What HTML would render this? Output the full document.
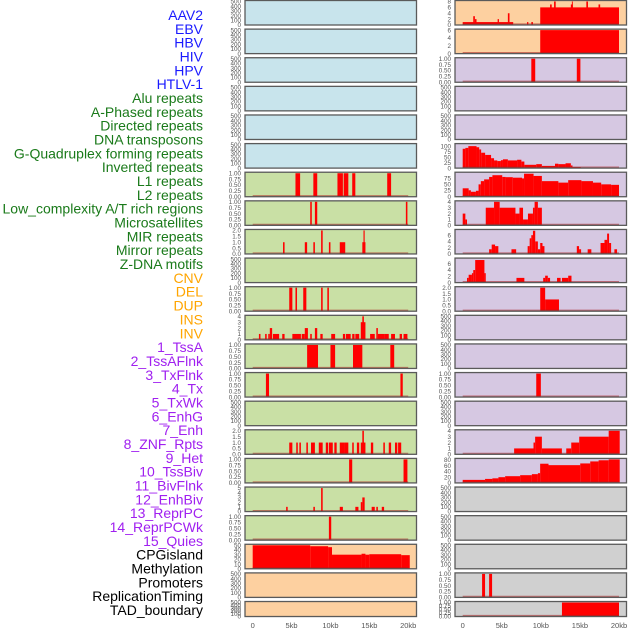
<!DOCTYPE html>
<html><head><meta charset="utf-8"><style>
html,body{margin:0;padding:0;background:#fff;}
svg{display:block;}
text{font-family:"Liberation Sans",sans-serif;}
</style></head><body>
<svg id="chart" width="630" height="630" viewBox="0 0 630 630" xmlns="http://www.w3.org/2000/svg">
<g id="labels"></g>
<g id="panels"></g>
</svg>
<script>
const labelNames = ["AAV2","EBV","HBV","HIV","HPV","HTLV-1","Alu repeats","A-Phased repeats","Directed repeats","DNA transposons","G-Quadruplex forming repeats","Inverted repeats","L1 repeats","L2 repeats","Low_complexity A/T rich regions","Microsatellites","MIR repeats","Mirror repeats","Z-DNA motifs","CNV","DEL","DUP","INS","INV","1_TssA","2_TssAFlnk","3_TxFlnk","4_Tx","5_TxWk","6_EnhG","7_Enh","8_ZNF_Rpts","9_Het","10_TssBiv","11_BivFlnk","12_EnhBiv","13_ReprPC","14_ReprPCWk","15_Quies","CPGisland","Methylation","Promoters","ReplicationTiming","TAD_boundary"];
const labelGroups = [0,0,0,0,0,0,1,1,1,1,1,1,1,1,1,1,1,1,1,2,2,2,2,2,3,3,3,3,3,3,3,3,3,3,3,3,3,3,3,4,4,4,4,4];
const groupColors = ["#1a1aff","#1a7a1a","#ffa500","#a020f0","#000000"];
const xTickLabels = ["0","5kb","10kb","15kb","20kb"];
const xTickValues = [0,5,10,15,20];

const segL7 = [[5.5,6.1,1],[7.8,8.3,1],[10.9,11.6,1],[11.7,12.3,1],[12.8,13.2,1],[17.3,17.8,1]];
const segL8 = [[7.4,7.6,1],[8.0,8.3,1],[19.7,19.9,1]];
const segL9 = [[3.9,4.1,1],[6.7,7.0,1],[7.8,8.0,1],[8.8,9.0,2],[9.8,10.0,1],[11.2,11.9,1],[14.1,14.5,1],[14.25,14.4,2]];
const segL11 = [[4.7,5.1,1],[5.5,5.7,1],[6.5,6.9,1],[8.8,9.0,1],[9.6,9.8,1]];
const segL12 = [[0.8,1.0,1],[1.6,1.8,1],[2.0,2.2,1],[2.2,2.5,2],[2.6,3.4,1],[3.8,4.1,1],[5.1,6.2,1],[6.3,6.7,1],[6.7,7.1,2],[7.4,7.6,1],[8.0,8.3,2],[8.7,9.0,1],[10.1,10.6,1],[11.6,11.9,1],[12.0,12.6,1],[12.8,13.1,1],[13.2,13.7,1],[13.9,14.5,3],[14.1,14.3,4],[15.1,15.7,1],[15.9,16.1,2],[16.1,16.9,1],[16.9,17.5,1],[17.8,18.3,1],[18.9,19.2,1],[19.4,19.9,1]];
const segL13 = [[7.0,8.4,1],[10.0,10.6,1],[12.9,14.1,1],[17.7,18.2,1]];
const segL14 = [[1.7,2.1,1],[19.0,19.3,1]];
const segL16 = [[4.7,5.1,1],[5.6,5.8,1],[6.0,6.2,1],[6.9,7.1,1],[7.5,8.0,1],[8.5,9.0,1],[9.4,9.7,1],[9.8,10.3,1],[10.5,10.8,1],[11.2,11.8,1],[11.8,12.3,1],[12.8,13.0,1],[13.4,13.7,1],[13.9,14.5,1],[14.1,14.3,2],[15.2,15.5,1],[16.8,17.0,1],[17.5,17.8,1],[18.3,18.6,1],[18.7,19.1,1]];
const segL17 = [[12.4,12.8,1],[19.4,19.9,1]];
const segL18 = [[4.3,4.5,1],[7.8,8.0,1],[8.8,9.0,5],[11.2,11.6,1],[13.2,13.6,1],[13.9,14.1,2],[14.1,14.4,3],[15.3,15.7,1],[15.9,16.1,1],[16.6,16.9,1]];
const segL19 = [[9.8,10.1,1]];
const segL20 = [[0,7.4,50],[7.4,9.7,48],[9.7,10.2,46],[10.2,14.0,30],[14.0,14.5,32],[14.5,15.0,30],[15.0,19.1,31],[19.1,20.2,29]];

const segR1 = [[0,6.46,1],[1.35,1.56,3],[1.56,1.77,2],[4.47,4.64,2],[5.78,5.99,4],[8.23,8.40,1],[8.78,8.99,1],[9.92,20,6],[11.18,11.39,7],[11.69,11.9,8],[13.84,14.09,7],[13.97,14.09,8],[15.82,16.03,8],[17.38,17.59,7]];
const segR2 = [[9.92,20,6]];
const segR3 = [[8.78,9.28,1],[14.6,15.06,1]];
const segR6 = [[0,0.34,88],[0.34,0.72,92],[0.72,1.77,100],[1.77,2.11,95],[2.11,2.36,85],[2.36,2.87,70],[2.87,3.63,60],[3.63,4.01,45],[4.01,4.43,35],[4.43,4.89,32],[4.89,5.15,36],[5.15,5.78,40],[5.78,6.96,35],[6.96,7.51,38],[7.51,7.89,30],[7.89,9.41,15],[9.41,10.13,18],[10.13,11.81,10],[11.81,12.24,20],[12.24,13.16,18],[13.16,13.84,22],[13.84,14.05,12],[14.05,15.11,5]];
const segR7 = [[0,0.76,34],[0.76,1.05,26],[1.05,1.69,20],[1.69,2.03,24],[2.03,2.32,50],[2.32,2.74,63],[2.74,3.38,70],[3.38,3.8,80],[3.8,5.06,87],[5.06,5.49,80],[5.49,6.41,79],[6.41,7.59,77],[7.59,7.85,74],[7.85,9.07,93],[9.07,10.13,84],[10.13,12.24,63],[12.24,13.5,57],[13.5,15.19,67],[15.19,16.67,63],[16.67,17.72,57],[17.72,18.99,50],[18.99,20,48]];
const segR8 = [[0,0.34,2],[0.34,0.55,1],[2.95,4.01,3],[4.01,4.73,4],[4.73,6.75,3],[6.75,7.26,2],[7.26,7.72,3],[7.72,8.35,1],[8.35,8.99,2],[8.99,9.2,3],[9.2,9.62,4],[9.62,10.13,3]];
const segR9 = [[3.38,3.71,1.5],[3.71,4.14,3],[4.14,4.56,2.5],[6.24,6.84,1.5],[8.31,8.57,2.5],[8.57,8.78,5],[8.78,8.99,6],[8.99,9.28,7.4],[9.28,9.62,4],[9.62,9.92,1.5],[9.92,10.21,3.5],[10.21,10.46,2.5],[14.6,14.89,2.5],[14.89,15.15,1.5],[15.99,16.46,1.5],[17.64,18.14,3.5],[18.14,18.48,4.5],[18.48,18.73,6.5],[18.73,18.99,3.5],[19.41,19.75,1.5]];
const segR10 = [[0.55,0.76,1.5],[0.76,1.18,2.5],[1.18,1.35,3],[1.35,1.6,4],[1.6,2.78,7.2],[2.78,2.95,3],[6.88,7.89,1.5],[10.3,10.55,1.5],[10.55,10.89,2.2],[10.89,11.18,1.5],[12.07,12.53,1.5],[12.7,13.5,1.5],[13.5,13.92,2.2]];
const segR11 = [[9.92,10.55,2],[10.55,12.32,1]];
const segR14 = [[9.41,10.0,1]];
const segR16 = [[6.58,9.06,1],[9.06,9.27,2],[9.27,10.13,3],[10.13,12.69,1],[13.25,13.89,1],[13.89,14.91,2],[14.91,18.68,3],[18.68,20.09,4]];
const segR17 = [[0,2.86,10.6],[2.86,3.8,14],[3.8,4.57,16],[4.57,5.43,20],[5.43,7.35,23.5],[7.35,8.85,27],[8.85,9.62,30.6],[9.62,9.91,34],[9.91,10.98,67],[10.98,15.04,62],[15.04,16.32,68],[16.32,17.39,75],[17.39,18.68,79],[18.68,20.09,82]];
const segR21 = [[2.48,2.86,1],[3.38,3.76,1]];
const segR22 = [[12.7,20,1]];

const ticksEmpty = ["0","100","200","300","400","500"];
const ticksOne = ["0.00","0.25","0.50","0.75","1.00"];
const ticksTwo = ["0.0","0.5","1.0","1.5","2.0"];
const ticksFour = ["0","1","2","3","4"];
const ticksFive = ["0","1","2","3","4","5"];
const ticksFifty = ["0","10","20","30","40","50"];
const ticksEight = ["0","2","4","6","8"];
const ticksSix = ["0","2","4","6"];
const ticksHundred = ["0","25","50","75","100"];
const ticksSeventyFive = ["0","25","50","75"];
const ticksEighty = ["0","20","40","60","80"];

const BLUE="#c8e4ec", GREEN="#c9e0a5", ORANGE="#fdd0a0", PURPLE="#d6c8e2", GREY="#d0d0d0";
const leftPanels = [
 [BLUE,500,ticksEmpty,null],[BLUE,500,ticksEmpty,null],[BLUE,500,ticksEmpty,null],[BLUE,500,ticksEmpty,null],[BLUE,500,ticksEmpty,null],[BLUE,500,ticksEmpty,null],
 [GREEN,1,ticksOne,segL7],[GREEN,1,ticksOne,segL8],[GREEN,2,ticksTwo,segL9],[GREEN,500,ticksEmpty,null],[GREEN,1,ticksOne,segL11],[GREEN,4,ticksFour,segL12],[GREEN,1,ticksOne,segL13],[GREEN,1,ticksOne,segL14],[GREEN,500,ticksEmpty,null],[GREEN,2,ticksTwo,segL16],[GREEN,1,ticksOne,segL17],[GREEN,5,ticksFive,segL18],[GREEN,1,ticksOne,segL19],
 [ORANGE,50,ticksFifty,segL20],[ORANGE,500,ticksEmpty,null],[ORANGE,500,ticksEmpty,null]
];
const rightPanels = [
 [ORANGE,8,ticksEight,segR1],[ORANGE,6,ticksSix,segR2],
 [PURPLE,1,ticksOne,segR3],[PURPLE,500,ticksEmpty,null],[PURPLE,500,ticksEmpty,null],[PURPLE,107,ticksHundred,segR6],[PURPLE,95,ticksSeventyFive,segR7],[PURPLE,4,ticksFour,segR8],[PURPLE,7.5,ticksSix,segR9],[PURPLE,7.5,ticksSix,segR10],[PURPLE,2,ticksTwo,segR11],[PURPLE,500,ticksEmpty,null],[PURPLE,500,ticksEmpty,null],[PURPLE,1,ticksOne,segR14],[PURPLE,500,ticksEmpty,null],[PURPLE,4,ticksFour,segR16],[PURPLE,82,ticksEighty,segR17],
 [GREY,500,ticksEmpty,null],[GREY,500,ticksEmpty,null],[GREY,500,ticksEmpty,null],[GREY,1,ticksOne,segR21],[GREY,1,ticksOne,segR22]
];

const NS="http://www.w3.org/2000/svg";
function mk(tag,attrs,parent){const e=document.createElementNS(NS,tag);for(const k in attrs)e.setAttribute(k,attrs[k]);parent.appendChild(e);return e;}

const lg=document.getElementById('labels');
const labelStep=(610-15)/(labelNames.length-1);
labelNames.forEach((n,i)=>{
  const t=mk('text',{x:203,y:15+i*labelStep+5,'text-anchor':'end','font-size':'14',fill:groupColors[labelGroups[i]]},lg);
  
  
  t.textContent=n;
});

const pg=document.getElementById('panels');
function rowTop(i){return 0.5+i*28.62;}
function drawColumn(panels,px0,px1,d0,d1,colName){
  const xs=kb=>d0+(d1-d0)*kb/20;
  panels.forEach((p,i)=>{
    const [bg,ymax,ticks,segs]=p;
    const top=rowTop(i), h=(i===21)?15:24.5, bot=top+h;
    const g=mk('g',{},pg);
    
    
    mk('rect',{x:px0,y:top,width:px1-px0,height:h,fill:bg},g);
    const ys=v=>bot-(h-1)*v/ymax;
    if(segs){
      segs.forEach(s=>{
        const r=mk('rect',{x:xs(s[0]),y:ys(s[2]),width:Math.max(0.8,xs(s[1])-xs(s[0])),height:bot-ys(s[2]),fill:'#ff0000'},g);
        
        
      });
      mk('line',{x1:xs(0),x2:xs(20),y1:bot-0.8,y2:bot-0.8,stroke:'rgba(170,30,30,0.55)','stroke-width':1.6},g);
    }
    mk('rect',{x:px0,y:top,width:px1-px0,height:h,fill:'none',stroke:'#5a5a5a','stroke-width':1.3},g);
    ticks.forEach((tl,k)=>{
      const v=parseFloat(tl);
      const yy=bot-(h-1)*v/ymax;
      const t=mk('text',{x:px0-4,y:yy+2.2,'text-anchor':'end','font-size':'6.3',fill:'#555'},g);
      
      
      t.textContent=tl;
    });
  });
  const ax=mk('g',{},pg);
  
  
  xTickValues.forEach((v,k)=>{
    const t=mk('text',{x:xs(v),y:628,'text-anchor':'middle','font-size':'7.5',fill:'#555'},ax);
    
    
    t.textContent=xTickLabels[k];
  });
}
drawColumn(leftPanels,245,416.5,252.7,408.2,'left');
drawColumn(rightPanels,455,626.5,462.7,619,'right');
</script>
</body></html>
